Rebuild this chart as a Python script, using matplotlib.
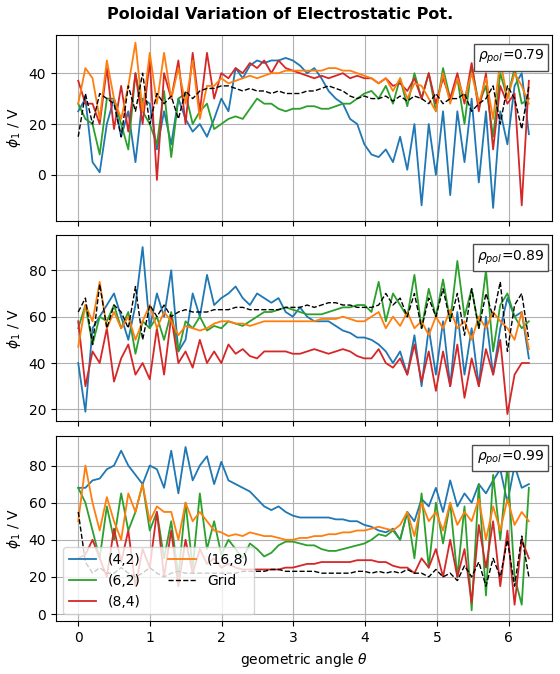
import numpy as np
import matplotlib
matplotlib.use('Agg')
import matplotlib.pyplot as plt

labels = ['(4,2)', '(6,2)', '(8,4)', '(16,8)', 'Grid']
colors = ['tab:blue', 'tab:green', 'tab:red', 'tab:orange', 'black']
rho = ['0.79', '0.89', '0.99']

# panel 1 (rho=0.79)
p1_42 = [25,30,5,1,20,30,15,25,5,30,28,10,25,12,30,22,17,20,15,22,30,25,42,38,43,45,44,45,45,46,45,43,40,42,38,33,30,28,22,20,12,8,7,10,5,15,2,20,-12,20,0,25,-8,25,5,30,-3,25,-13,25,12,35,40,16]
p1_62 = [28,22,20,8,30,30,20,10,40,25,20,12,33,7,30,32,20,25,28,18,20,22,23,22,26,30,28,28,26,25,26,26,27,27,26,26,27,28,28,30,32,33,30,35,28,38,27,40,30,40,25,42,30,38,20,43,28,35,15,40,30,42,28,30]
p1_84 = [37,28,28,20,42,18,35,17,40,20,45,-2,40,30,45,20,48,25,48,30,40,38,42,40,44,42,45,40,45,42,41,40,39,38,39,38,39,40,38,39,38,38,36,38,35,36,33,38,30,40,28,38,30,40,28,44,25,40,10,35,28,32,-12,37]
p1_168 = [28,42,38,22,45,30,22,35,52,25,48,28,48,30,42,28,45,22,35,35,38,36,37,38,39,38,39,40,40,41,41,41,41,41,41,42,42,41,41,40,39,38,36,38,33,38,30,36,35,30,25,40,28,38,30,40,28,38,22,45,30,40,35,28]
p1_grid = [15,32,20,32,30,28,15,35,25,40,20,32,28,31,22,33,30,33,34,34,35,35,34,33,34,33,33,32,33,32,32,32,33,33,34,35,34,33,31,30,31,30,30,31,29,31,29,31,30,28,32,28,30,30,32,25,28,30,35,20,35,30,18,35]

# panel 2 (rho=0.89)
p2_42 = [40,19,55,60,65,70,60,50,65,90,55,70,60,80,45,50,70,60,78,65,68,70,73,68,65,70,68,66,68,62,60,64,60,58,58,58,56,54,53,51,51,50,48,45,40,45,35,52,30,55,35,58,30,62,35,55,30,60,35,55,68,60,62,42]
p2_62 = [55,65,48,60,58,65,55,62,44,58,55,60,50,62,45,58,55,60,54,56,55,58,57,56,58,60,62,62,63,64,63,62,61,61,61,62,63,64,64,65,65,62,75,58,70,65,60,78,55,72,60,76,58,84,60,72,55,80,45,65,70,60,55,58]
p2_84 = [58,30,45,40,55,32,42,48,35,40,33,55,35,60,40,45,38,50,40,45,40,48,44,46,43,42,45,45,45,45,44,44,45,46,45,44,45,46,45,43,42,42,46,40,38,42,35,48,32,45,28,45,30,48,25,42,30,46,35,50,18,35,40,40]
p2_168 = [47,65,58,75,55,62,55,60,50,58,65,55,62,58,52,56,55,54,55,57,58,58,57,57,56,57,58,58,58,58,58,58,58,58,59,59,59,60,59,58,58,60,62,55,60,56,62,55,58,52,60,55,63,55,58,50,60,55,62,58,55,50,62,46]
p2_grid = [62,68,48,74,55,65,62,55,73,50,65,60,65,60,62,63,62,62,62,63,63,63,64,64,63,63,63,63,63,64,64,64,65,64,65,66,66,65,65,64,64,64,65,70,65,68,60,70,55,68,60,72,58,70,52,72,55,70,60,75,45,65,70,50]

# panel 3 (rho=0.99)
p3_42 = [68,68,72,73,78,80,88,80,75,70,80,78,68,88,65,90,72,80,85,70,82,72,70,68,66,62,58,56,58,55,53,52,52,52,52,52,51,51,50,50,48,47,45,44,46,40,55,50,62,58,68,55,72,58,65,60,70,65,72,78,60,80,68,70]
p3_62 = [68,60,45,30,58,40,65,45,55,70,45,55,30,50,20,60,25,65,35,50,32,40,35,30,38,35,31,33,37,39,39,38,37,37,35,34,34,35,36,37,38,40,43,42,45,40,55,30,65,25,60,38,60,20,58,2,70,10,75,40,80,20,5,68]
p3_84 = [30,32,40,30,20,46,28,45,15,35,25,55,20,45,15,40,22,35,27,30,25,27,25,24,24,24,24,24,24,25,25,26,27,27,28,28,28,28,28,29,29,29,28,28,26,25,25,22,30,25,35,20,40,20,35,6,48,25,50,15,45,5,40,30]
p3_168 = [50,80,60,45,63,50,40,65,55,70,50,58,55,55,40,60,50,55,50,45,44,42,43,42,44,43,42,42,41,40,40,41,41,42,42,43,43,44,44,45,45,46,47,46,45,48,55,42,60,50,55,45,60,48,55,50,62,40,58,45,62,48,55,50]
p3_grid = [55,28,22,25,22,22,25,22,20,22,25,22,20,22,23,22,22,22,22,22,22,22,22,23,23,23,23,24,24,23,23,23,23,23,22,22,22,22,22,23,23,22,23,22,23,22,24,22,22,20,24,20,22,18,26,20,28,15,30,20,40,15,42,20]

panels = [
    [p1_42, p1_62, p1_84, p1_168, p1_grid],
    [p2_42, p2_62, p2_84, p2_168, p2_grid],
    [p3_42, p3_62, p3_84, p3_168, p3_grid],
]
ylims = [(-18, 55), (15, 95), (-4, 96)]
yticks = [[0, 20, 40], [20, 40, 60, 80], [0, 20, 40, 60, 80]]

fig, axes = plt.subplots(3, 1, figsize=(5.6, 6.74), dpi=100, sharex=True)
fig.subplots_adjust(left=0.1, right=0.985, top=0.948, bottom=0.078, hspace=0.08)
fig.suptitle('Poloidal Variation of Electrostatic Pot.', fontweight='bold',
             fontsize=11.5, y=0.99)

for ax, series, r, yl, yt in zip(axes, panels, rho, ylims, yticks):
    for y, lab, c in zip(series, labels, colors):
        x = np.linspace(0, 2 * np.pi, len(y))
        ls = '--' if lab == 'Grid' else '-'
        lw = 1.0 if lab == 'Grid' else 1.3
        ax.plot(x, y, color=c, ls=ls, lw=lw, label=lab)
    ax.set_ylim(*yl)
    ax.set_yticks(yt)
    ax.set_ylabel(r'$\phi_1$ / V')
    ax.grid(True)
    ax.text(0.985, 0.93, r'$\rho_{pol}$=' + r, transform=ax.transAxes,
            ha='right', va='top', fontsize=10,
            bbox=dict(boxstyle='square', facecolor='white', edgecolor='0.3'))

axes[-1].set_xlim(-0.31, 6.6)
axes[-1].set_xlabel(r'geometric angle $\theta$')
axes[-1].legend(loc='lower left', ncol=2)
fig.savefig('out.png')
